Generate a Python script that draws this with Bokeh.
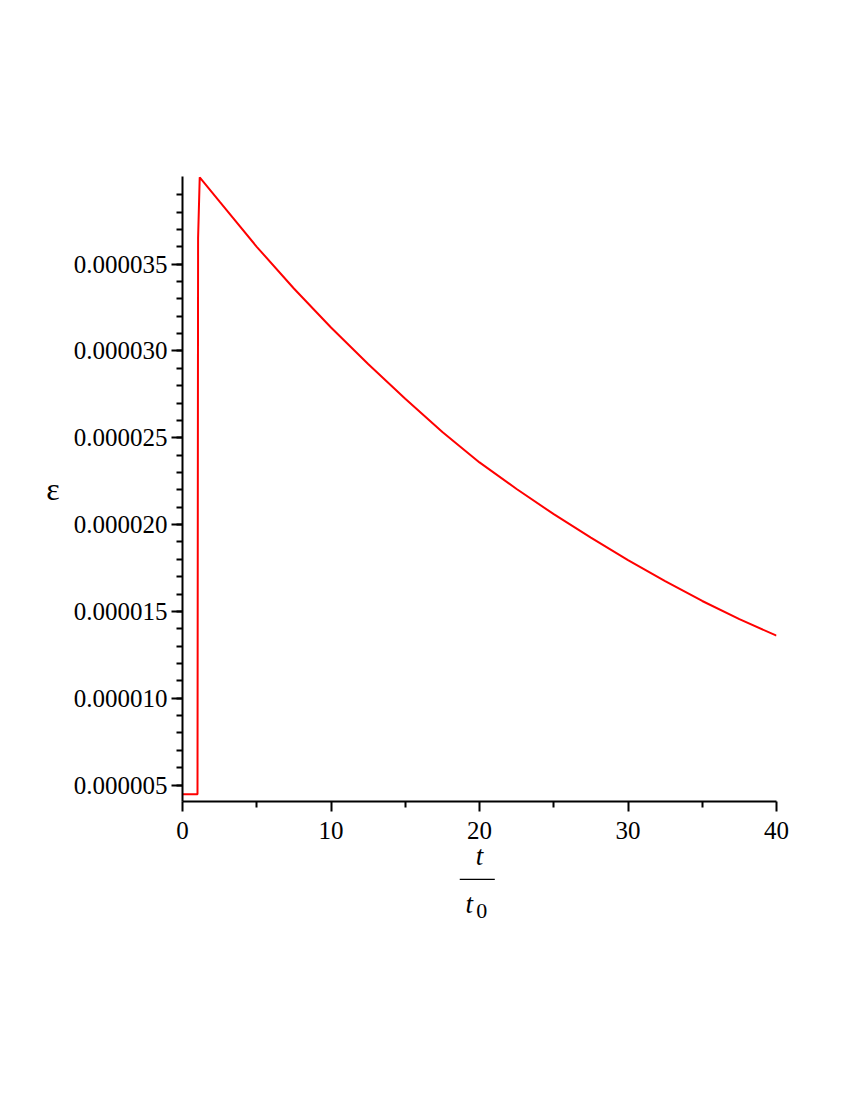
from bokeh.plotting import figure
from bokeh.models import FixedTicker, PrintfTickFormatter, Label, BoxAnnotation, Range1d
from bokeh.layouts import column
from bokeh.embed import file_html
from bokeh.resources import INLINE

# data
t_vals = [0.0, 1.01, 1.05, 1.16, 2.5, 5.0, 7.5, 10.0, 12.5, 15.0, 17.5,
          20.0, 22.5, 25.0, 27.5, 30.0, 32.5, 35.0, 37.5, 40.0]
eps_vals = [4.47e-6, 4.47e-6, 36.5e-6, 40.0e-6, 38.6e-6, 36.0e-6, 33.6e-6,
            31.35e-6, 29.25e-6, 27.25e-6, 25.33e-6, 23.58e-6, 22.05e-6,
            20.6e-6, 19.25e-6, 17.95e-6, 16.75e-6, 15.6e-6, 14.55e-6, 13.6e-6]

x_major = [0, 10, 20, 30, 40]
x_minor = [5, 15, 25, 35]
y_major = [5e-6, 10e-6, 15e-6, 20e-6, 25e-6, 30e-6, 35e-6]
y_minor = [k * 1e-6 for k in range(4, 40)]

W = 830
H1 = 878
H2 = 202
FONT = "Liberation Serif"

p = figure(width=W, height=H1, output_backend="svg", toolbar_location=None,
           x_range=Range1d(0.0, 40.0), y_range=Range1d(4.05e-6, 40.05e-6),
           min_border_left=182, min_border_right=54, min_border_top=176,
           min_border_bottom=77)
p.outline_line_color = None
p.xgrid.visible = False
p.ygrid.visible = False

p.line(t_vals, eps_vals, line_color="#ff0000", line_width=2)

for ax in (p.xaxis[0], p.yaxis[0]):
    ax.axis_line_width = 2
    ax.axis_line_color = "black"
    ax.major_tick_line_width = 2
    ax.minor_tick_line_width = 2
    ax.major_tick_in = 0
    ax.minor_tick_in = 0
    ax.minor_tick_out = 6
    ax.major_label_text_font = FONT
    ax.major_label_text_font_size = "25px"
    ax.major_label_text_color = "black"

p.xaxis[0].ticker = FixedTicker(ticks=x_major, minor_ticks=x_minor)
p.xaxis[0].formatter = PrintfTickFormatter(format="%d")
p.xaxis[0].major_tick_out = 10
p.xaxis[0].major_label_standoff = 10
# numerator of the x label fraction
p.xaxis[0].axis_label = "t"
p.xaxis[0].axis_label_text_font = FONT
p.xaxis[0].axis_label_text_font_style = "italic"
p.xaxis[0].axis_label_text_font_size = "27px"
p.xaxis[0].axis_label_text_color = "black"
p.xaxis[0].axis_label_standoff = -1

p.yaxis[0].ticker = FixedTicker(ticks=y_major, minor_ticks=y_minor)
p.yaxis[0].formatter = PrintfTickFormatter(format="%.6f")
p.yaxis[0].major_tick_out = 11
p.yaxis[0].major_label_standoff = 4
p.yaxis[0].axis_label = "ε"
p.yaxis[0].axis_label_orientation = "horizontal"
p.yaxis[0].axis_label_text_font = FONT
p.yaxis[0].axis_label_text_font_style = "normal"
p.yaxis[0].axis_label_text_font_size = "32px"
p.yaxis[0].axis_label_text_color = "black"
p.yaxis[0].axis_label_standoff = 11

# strip below the chart holding the rest of the x label (bar and t0)
p2 = figure(width=W, height=H2, output_backend="svg", toolbar_location=None,
            x_range=p.x_range, y_range=Range1d(H2, 0),
            x_axis_location=None, y_axis_location=None,
            min_border_left=182, min_border_right=54, min_border_top=0,
            min_border_bottom=0)
p2.outline_line_color = None
p2.xgrid.visible = False
p2.ygrid.visible = False

p2.add_layout(BoxAnnotation(left=18.67, right=21.03, top=0.0, bottom=1.4,
                            fill_color="black", fill_alpha=1.0, line_color=None))
p2.add_layout(Label(x=19.31, y=25, text="t",
                    text_font=FONT, text_font_style="italic", text_font_size="27px",
                    text_align="center", text_baseline="alphabetic", text_color="black"))
p2.add_layout(Label(x=20.15, y=32, text="0",
                    text_font=FONT, text_font_size="22px",
                    text_align="center", text_baseline="alphabetic", text_color="black"))

layout = column(p, p2, spacing=0)
open("out.html", "w").write(file_html(layout, INLINE))
